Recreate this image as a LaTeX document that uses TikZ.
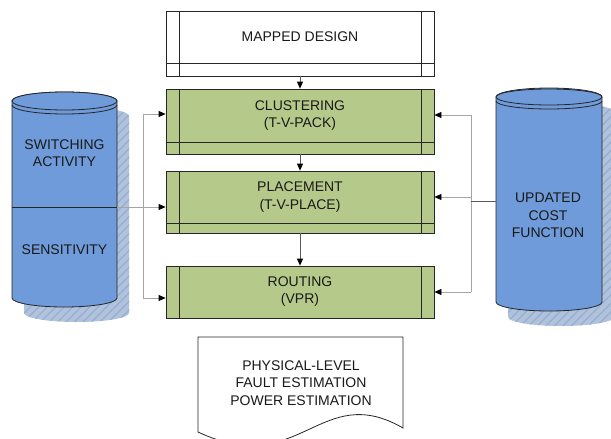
\documentclass[tikz,border=0pt]{standalone}
\usepackage{fontspec}
\setmainfont{Liberation Sans}
\usetikzlibrary{arrows.meta,patterns.meta}
\definecolor{boxgreen}{RGB}{181,202,138}
\definecolor{cylblue}{RGB}{111,155,218}
\definecolor{shadowblue}{RGB}{176,194,220}
\definecolor{hatchblue}{RGB}{150,174,208}
\definecolor{conngray}{RGB}{165,165,165}
\begin{document}
\begin{tikzpicture}[x=1pt,y=-1pt,
  box/.style={draw=black!85, line width=0.8pt, rectangle, inner sep=0pt, minimum width=268pt},
  proc/.style={box, fill=boxgreen},
  lbl/.style={font=\fontsize{14}{17.5}\selectfont, align=center, text=black!90},
  conn/.style={draw=conngray, line width=0.8pt},
  darkconn/.style={draw=black!65, line width=0.8pt},
  tip/.style={-{Triangle[length=7pt,width=6pt,color=black]}},
  cyl/.style={fill=cylblue, draw=black!85, line width=0.8pt},
  shadow/.style={fill=shadowblue},
  hatch/.style={pattern={Lines[angle=45,distance=6pt,line width=1.2pt]}, pattern color=hatchblue},
  inner/.style={draw=black!85, line width=0.8pt}
]
\useasboundingbox (0,0) rectangle (611,439);
\clip (0,0) rectangle (611,439);

% shadows
\fill[shadow] (24,116) -- (24,313) arc[start angle=180,end angle=0,x radius=52.5,y radius=9] -- (129,116) arc[start angle=0,end angle=-180,x radius=52.5,y radius=9] -- cycle;
\path[hatch] (24,116) -- (24,313) arc[start angle=180,end angle=0,x radius=52.5,y radius=9] -- (129,116) arc[start angle=0,end angle=-180,x radius=52.5,y radius=9] -- cycle;
\fill[shadow] (508,112) -- (508,317) arc[start angle=180,end angle=0,x radius=53,y radius=9] -- (614,112) arc[start angle=0,end angle=-180,x radius=53,y radius=9] -- cycle;
\path[hatch] (508,112) -- (508,317) arc[start angle=180,end angle=0,x radius=53,y radius=9] -- (614,112) arc[start angle=0,end angle=-180,x radius=53,y radius=9] -- cycle;

% left cylinder
\draw[cyl] (12,101) -- (12,298) arc[start angle=180,end angle=0,x radius=52.5,y radius=9] -- (117,101) arc[start angle=0,end angle=-180,x radius=52.5,y radius=9] -- cycle;
\draw[cyl] (64.5,101) ellipse [x radius=52.5, y radius=9];
\draw[inner] (12,105) arc[start angle=180,end angle=0,x radius=52.5,y radius=9];
\draw[inner] (12,207) -- (117,207);
\node[lbl] (swtxt) at (64.5,153) {SWITCHING\\ACTIVITY};
\node[lbl] (senstxt) at (64.5,250) {SENSITIVITY};

% right cylinder
\draw[cyl] (496,97) -- (496,302) arc[start angle=180,end angle=0,x radius=53,y radius=9] -- (602,97) arc[start angle=0,end angle=-180,x radius=53,y radius=9] -- cycle;
\draw[cyl] (549,97) ellipse [x radius=53, y radius=8];
\draw[inner] (496,101) arc[start angle=180,end angle=0,x radius=53,y radius=8];
\node[lbl] (costtxt) at (548,215.5) {UPDATED\\COST\\FUNCTION};

% process boxes
\node[box, fill=white, minimum height=65pt] (mapped) at (300,43.5) {};
\draw[inner] (179,11) -- (179,76) (421,11) -- (421,76) (166,63) -- (434,63);
\node[lbl] (mappedtxt) at (300,37) {MAPPED DESIGN};

\node[proc, minimum height=65pt] (clust) at (300,121.5) {};
\draw[inner] (179,89) -- (179,154) (421,89) -- (421,154) (166,142) -- (434,142);
\node[lbl] (clusttxt) at (300,115.5) {CLUSTERING\\(T-V-PACK)};

\node[proc, minimum height=62pt] (place) at (300,202) {};
\draw[inner] (179,171) -- (179,233) (421,171) -- (421,233) (166,223) -- (434,223);
\node[lbl] (placetxt) at (300,197) {PLACEMENT\\(T-V-PLACE)};

\node[proc, minimum height=52pt] (route) at (300,292) {};
\draw[inner] (179,266) -- (179,318) (421,266) -- (421,318);
\node[lbl] (routetxt) at (300,291.5) {ROUTING\\(VPR)};

% vertical flow
\draw[darkconn, tip] (mapped.south) -- (clust.north);
\draw[darkconn, tip] (clust.south) -- (place.north);
\draw[darkconn, tip] (place.south) -- (route.north);

% left connectors
\coordinate (lv1) at (143,114);
\coordinate (lv2) at (143,298);
\coordinate (lc) at (117,207);
\draw[conn] (lv1) -- (lv2);
\draw[conn, tip] (lv1) -- (lv1 -| clust.west);
\draw[conn, tip] (lv2) -- (lv2 -| route.west);
\draw[conn, tip] (lc) -- (lc -| place.west);

% right connectors
\coordinate (rv1) at (471,115);
\coordinate (rvm) at (471,197);
\coordinate (rv2) at (471,292);
\coordinate (rc) at (496,201);
\draw[conn] (rv1) -- (rv2);
\draw[conn, tip] (rv1) -- (rv1 -| clust.east);
\draw[conn, tip] (rvm) -- (rvm -| place.east);
\draw[conn, tip] (rv2) -- (rv2 -| route.east);
\draw[darkconn] (rc) -- (rc -| rv1);

% document shape
\draw[fill=white, draw=black!85, line width=0.8pt] (198,337) -- (198,432) .. controls (300,480) and (320,380) .. (403,428) -- (403,337) -- cycle;
\node[lbl] (doctxt) at (301,383) {PHYSICAL-LEVEL\\FAULT ESTIMATION\\POWER ESTIMATION};
\end{tikzpicture}
\end{document}
